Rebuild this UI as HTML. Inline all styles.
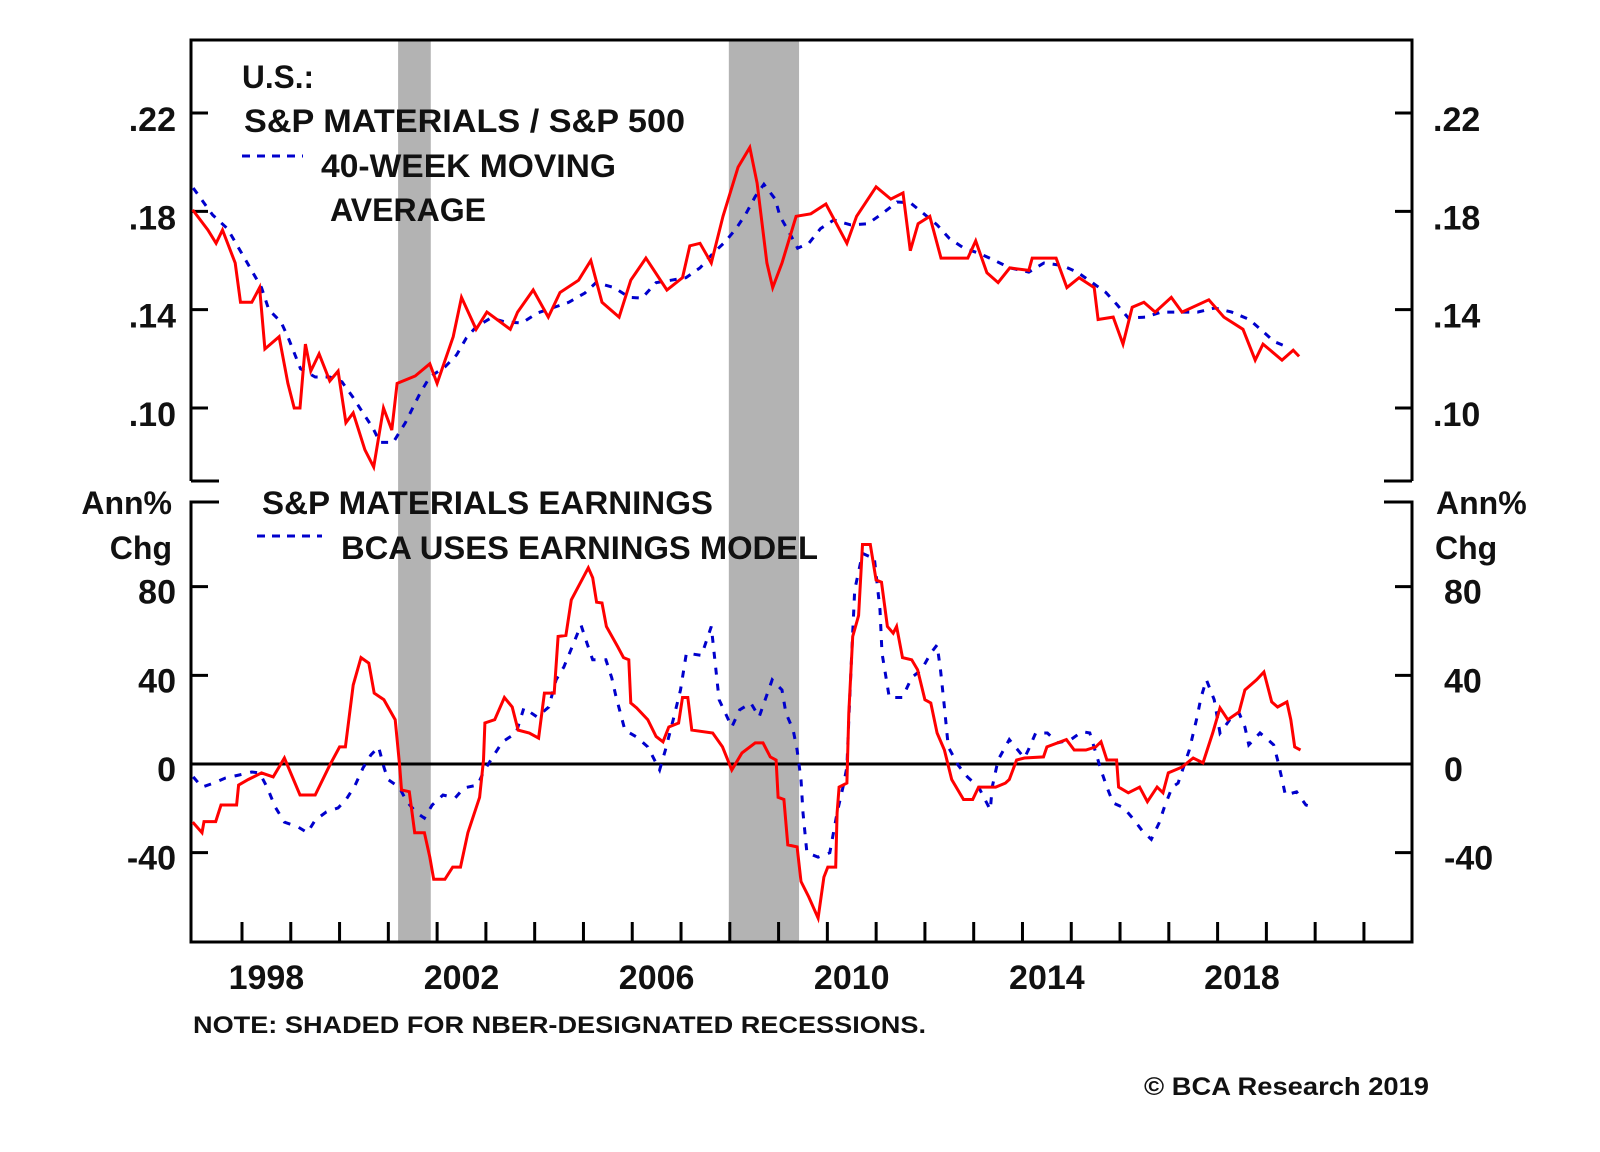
<!DOCTYPE html>
<html><head><meta charset="utf-8"><title>S&amp;P Materials relative performance and earnings growth, 1997–2019</title>
<style>
html,body{margin:0;padding:0;background:#fff;}
svg{display:block;}
text{font-family:"Liberation Sans",Arial,sans-serif;font-weight:bold;fill:#111;}
</style></head>
<body>
<svg id="chart" width="1600" height="1152" viewBox="0 0 1600 1152" xmlns="http://www.w3.org/2000/svg">
<g id="rec"></g>
<g id="frame"></g>
<g id="ticks"></g>
<g id="series"></g>
<g id="labels">
<text x="242" y="88" font-size="32" textLength="72" lengthAdjust="spacingAndGlyphs">U.S.:</text>
<text x="244" y="132" font-size="32" textLength="441" lengthAdjust="spacingAndGlyphs">S&amp;P MATERIALS / S&amp;P 500</text>
<line x1="242" y1="156" x2="303" y2="156" stroke="#0000cc" stroke-width="3" stroke-dasharray="8,7"/>
<text x="321" y="177" font-size="32" textLength="295" lengthAdjust="spacingAndGlyphs">40-WEEK MOVING</text>
<text x="330" y="221" font-size="32" textLength="156" lengthAdjust="spacingAndGlyphs">AVERAGE</text>
<text x="262" y="514" font-size="32" textLength="451" lengthAdjust="spacingAndGlyphs">S&amp;P MATERIALS EARNINGS</text>
<line x1="257" y1="536" x2="322" y2="536" stroke="#0000cc" stroke-width="3" stroke-dasharray="8,7"/>
<text x="341" y="559" font-size="32" textLength="477" lengthAdjust="spacingAndGlyphs">BCA USES EARNINGS MODEL</text>
<text x="172" y="514" font-size="32" text-anchor="end">Ann%</text>
<text x="172" y="559" font-size="32" text-anchor="end">Chg</text>
<text x="1436" y="514" font-size="32">Ann%</text>
<text x="1435" y="559" font-size="32">Chg</text>
<text x="193" y="1033" font-size="24" textLength="733" lengthAdjust="spacingAndGlyphs">NOTE: SHADED FOR NBER-DESIGNATED RECESSIONS.</text>
<text x="1144" y="1095" font-size="25" textLength="285" lengthAdjust="spacingAndGlyphs">© BCA Research 2019</text>
</g>
</svg>
<script>
// ---- data ----
const recStart = [2001.2, 2007.98];
const recEnd = [2001.87, 2009.42];
const topTicks = [0.22, 0.18, 0.14, 0.10];
const topTickLabels = [".22", ".18", ".14", ".10"];
const botTicks = [80, 40, 0, -40];
const botTickLabels = ["80", "40", "0", "-40"];
const yearLabels = [1998, 2002, 2006, 2010, 2014, 2018];

const ratioYears = [1996.99,1997.3,1997.47,1997.6,1997.86,1997.97,1998.2,1998.36,1998.47,1998.76,1998.94,1999.07,1999.19,1999.3,1999.41,1999.58,1999.8,1999.97,2000.13,2000.28,2000.52,2000.7,2000.9,2001.07,2001.18,2001.55,2001.85,2002.0,2002.33,2002.5,2002.8,2003.02,2003.5,2003.65,2003.97,2004.28,2004.52,2004.9,2005.15,2005.38,2005.73,2005.97,2006.28,2006.71,2007.03,2007.18,2007.39,2007.62,2007.86,2008.17,2008.41,2008.56,2008.76,2008.88,2009.07,2009.36,2009.66,2009.97,2010.4,2010.6,2011.0,2011.3,2011.55,2011.7,2011.86,2012.1,2012.33,2012.88,2013.04,2013.27,2013.5,2013.74,2014.13,2014.2,2014.69,2014.91,2015.16,2015.47,2015.55,2015.86,2016.06,2016.25,2016.49,2016.72,2017.05,2017.27,2017.82,2018.13,2018.52,2018.77,2018.93,2019.32,2019.55,2019.67];
const ratioValues = [0.1806,0.1724,0.167,0.1724,0.159,0.143,0.143,0.149,0.124,0.129,0.110,0.100,0.100,0.126,0.115,0.122,0.111,0.115,0.094,0.098,0.083,0.076,0.100,0.091,0.110,0.113,0.118,0.110,0.129,0.145,0.132,0.139,0.132,0.139,0.148,0.137,0.147,0.152,0.160,0.143,0.137,0.152,0.161,0.148,0.153,0.166,0.167,0.159,0.178,0.198,0.206,0.1915,0.159,0.149,0.159,0.178,0.179,0.183,0.167,0.178,0.190,0.185,0.1875,0.164,0.175,0.178,0.161,0.161,0.168,0.155,0.151,0.157,0.156,0.161,0.161,0.149,0.153,0.149,0.136,0.137,0.126,0.141,0.143,0.139,0.145,0.139,0.144,0.137,0.132,0.1195,0.126,0.1195,0.1235,0.121];

const maYears = [1997.0,1997.4,1997.7,1998.08,1998.4,1998.55,1998.8,1998.95,1999.2,1999.5,1999.8,2000.05,2000.27,2000.48,2000.68,2000.83,2001.1,2001.35,2001.5,2001.65,2001.85,2002.16,2002.4,2002.6,2002.8,2003.1,2003.4,2003.74,2004.05,2004.36,2004.7,2005.03,2005.26,2005.63,2005.94,2006.2,2006.49,2006.8,2007.1,2007.39,2007.66,2007.9,2008.13,2008.33,2008.52,2008.7,2008.93,2009.03,2009.23,2009.39,2009.62,2009.86,2010.13,2010.48,2010.83,2011.12,2011.43,2011.7,2011.98,2012.25,2012.5,2012.8,2013.1,2013.43,2013.74,2014.13,2014.44,2014.81,2015.12,2015.43,2015.71,2015.94,2016.17,2016.53,2016.84,2017.19,2017.59,2017.94,2018.29,2018.65,2018.88,2019.16,2019.47];
const maValues = [0.1895,0.1785,0.173,0.160,0.149,0.140,0.135,0.1285,0.116,0.1126,0.1126,0.1106,0.1045,0.098,0.092,0.086,0.086,0.094,0.100,0.106,0.1126,0.1167,0.1216,0.1285,0.133,0.1366,0.135,0.1346,0.1386,0.1407,0.143,0.1468,0.151,0.149,0.145,0.1447,0.151,0.152,0.153,0.157,0.163,0.1675,0.173,0.179,0.186,0.191,0.185,0.178,0.171,0.165,0.167,0.173,0.1765,0.1745,0.175,0.179,0.1838,0.1835,0.179,0.1745,0.169,0.165,0.163,0.160,0.157,0.1553,0.159,0.158,0.1553,0.151,0.147,0.142,0.1366,0.137,0.139,0.139,0.139,0.1407,0.139,0.136,0.132,0.127,0.1245];

const earnYears = [1996.99,1997.18,1997.22,1997.46,1997.57,1997.89,1997.93,1998.13,1998.4,1998.64,1998.87,1999.19,1999.5,1999.8,2000.0,2000.12,2000.28,2000.44,2000.6,2000.71,2000.91,2001.14,2001.23,2001.27,2001.43,2001.54,2001.74,2001.85,2001.93,2002.16,2002.32,2002.48,2002.63,2002.87,2002.95,2002.98,2003.18,2003.38,2003.54,2003.66,2003.89,2004.08,2004.2,2004.4,2004.48,2004.64,2004.75,2004.99,2005.1,2005.19,2005.27,2005.38,2005.47,2005.7,2005.82,2005.93,2005.97,2006.09,2006.32,2006.49,2006.63,2006.75,2006.95,2007.03,2007.14,2007.22,2007.65,2007.85,2008.04,2008.25,2008.52,2008.68,2008.83,2008.95,2008.99,2009.11,2009.19,2009.38,2009.46,2009.62,2009.81,2009.93,2010.01,2010.17,2010.2,2010.24,2010.4,2010.44,2010.52,2010.64,2010.72,2010.88,2011.0,2011.11,2011.23,2011.35,2011.42,2011.54,2011.73,2011.85,2012.0,2012.12,2012.25,2012.4,2012.55,2012.79,2012.98,2013.1,2013.45,2013.65,2013.73,2013.88,2014.04,2014.43,2014.5,2014.9,2015.06,2015.3,2015.5,2015.61,2015.73,2015.93,2015.97,2016.17,2016.4,2016.56,2016.76,2016.88,2016.99,2017.27,2017.5,2017.7,2017.9,2018.05,2018.21,2018.44,2018.56,2018.8,2018.95,2019.11,2019.23,2019.42,2019.5,2019.58,2019.7];
const earnValues = [-26.2,-31,-26,-26,-18.5,-18.5,-9.5,-7,-4,-5.8,2.7,-14,-14,-0.5,7.7,7.7,35.6,48,45.5,32,29,20,-0.5,-11.7,-12.5,-31,-31,-42,-52,-52,-46.5,-46.5,-31,-15,1.8,18.5,20,30,25.7,15.3,14,11.7,32,32,57.5,58,74,84,88.5,84,73,72.6,62,53,48,47,27.5,25.3,20,12.4,10,16.7,18.5,30,30,15.3,14,7.7,-2.7,5,9.5,9.5,3.2,1.8,-15,-16,-36.5,-37.4,-53,-60,-69.5,-51,-46.5,-46.5,-22,-10.4,-8.6,23,57.5,67,99,99,83,82,62,59,62,48,47,42.5,29,27.5,14,6.3,-7,-16,-16,-10.4,-10.4,-8.6,-7,1.8,2.7,3.2,7.7,11,6.3,6.3,7.7,10,1.8,1.8,-10.4,-13,-10.4,-17,-10.4,-13,-4,-1.4,2.7,0.5,14,25.3,20,23.5,33.4,38,41.5,28,25.7,28,20,7.7,6.3];

const modelYears = [1997.0,1997.18,1997.42,1997.66,1997.93,1998.2,1998.36,1998.52,1998.68,1998.87,1999.15,1999.34,1999.5,1999.73,1999.97,2000.13,2000.32,2000.48,2000.64,2000.8,2000.91,2000.99,2001.22,2001.38,2001.58,2001.74,2001.9,2002.12,2002.37,2002.55,2002.83,2002.95,2003.14,2003.34,2003.62,2003.78,2004.05,2004.29,2004.44,2004.6,2004.8,2004.95,2005.07,2005.19,2005.46,2005.58,2005.66,2005.85,2006.09,2006.32,2006.56,2006.68,2006.84,2006.99,2007.11,2007.42,2007.62,2007.7,2007.78,2008.04,2008.2,2008.43,2008.6,2008.87,2009.07,2009.15,2009.3,2009.38,2009.46,2009.5,2009.58,2009.81,2010.05,2010.2,2010.32,2010.4,2010.44,2010.49,2010.56,2010.72,2010.88,2010.96,2011.08,2011.12,2011.27,2011.54,2011.73,2011.93,2012.12,2012.25,2012.32,2012.4,2012.48,2012.68,2012.87,2013.1,2013.34,2013.38,2013.5,2013.73,2014.04,2014.12,2014.27,2014.51,2014.72,2014.99,2015.22,2015.38,2015.61,2015.73,2015.86,2016.08,2016.29,2016.45,2016.64,2016.8,2016.91,2017.07,2017.19,2017.3,2017.42,2017.58,2017.66,2017.77,2017.93,2018.05,2018.25,2018.44,2018.56,2018.64,2018.87,2019.03,2019.15,2019.23,2019.31,2019.39,2019.62,2019.81,2019.95];
const modelValues = [-5.8,-10.4,-8.6,-6.3,-5,-3.6,-4,-10.8,-19.4,-26.2,-28.4,-31,-25.3,-21.6,-19.8,-16.2,-9.5,-1.8,4,7.7,-1.4,-7,-10.4,-17,-22,-24.4,-18.5,-14,-15.3,-10.8,-9.5,-3.6,3.2,10,14,25.3,21.2,25.7,38,43.8,54.6,62.7,54.6,47,47,38.8,31,15.3,12.2,7.7,-2.7,6.3,20,33.4,50,49,62,45.5,29,16.7,24.4,27.5,21.2,38,33.4,23,15.3,6.3,-7,-22,-40,-42,-40,-22,-10.4,-1.4,20,45.5,78.5,95,93.4,93.4,69.5,50,30,30,39,42.5,50,53.7,42.5,25.7,7.7,-0.5,-5.8,-10.4,-20.7,-10.4,1.8,11,2.7,6.3,14,14,9.5,11,14.6,14,-2.7,-10.4,-17.6,-19.8,-25.3,-30,-34,-26.6,-19.4,-10.4,-8.6,-1.4,6.3,21.2,30,38,29,14,20,23,16.7,8.6,14,11,8.6,1.8,-5.8,-14,-12.6,-18.5,-19.4];

// ---- layout / scales ----
const L = 191, R = 1412, TOP = 40, TB = 481, BT = 502, BOT = 942;
function xYear(y){ return 242 + (y - 1998) * 48.78; }
function yTop(v){ return 408 - (v - 0.10) * 2458; }
function yBot(v){ return 764 - v * 2.217; }
const NS = "http://www.w3.org/2000/svg";
function mk(tag, attrs, parent){
  const e = document.createElementNS(NS, tag);
  for (const k in attrs) e.setAttribute(k, attrs[k]);
  parent.appendChild(e); return e;
}
const gRec = document.getElementById('rec'), gFrame = document.getElementById('frame'),
      gTicks = document.getElementById('ticks'), gSeries = document.getElementById('series'),
      gLab = document.getElementById('labels');

for (let i = 0; i < recStart.length; i++){
  const r = mk('rect', {x: xYear(recStart[i]), y: TOP, width: xYear(recEnd[i]) - xYear(recStart[i]), height: BOT - TOP, fill: '#b3b3b3'}, gRec);
  
  
}

const fs = {stroke: '#000', 'stroke-width': 3, fill: 'none'};
const topFrame = mk('path', Object.assign({d: `M${L} ${TB} L${L} ${TOP} L${R} ${TOP} L${R} ${TB} M${L} ${TB} L${L+28} ${TB} M${R} ${TB} L${R-28} ${TB}`}, fs), gFrame);


const botFrame = mk('path', Object.assign({d: `M${L+28} ${BT} L${L} ${BT} L${L} ${BOT} L${R} ${BOT} L${R} ${BT} L${R-28} ${BT}`}, fs), gFrame);


const zl = mk('line', {x1: L, x2: R, y1: yBot(0), y2: yBot(0), stroke: '#000', 'stroke-width': 3}, gFrame);



topTicks.forEach((v, i) => {
  const y = yTop(v);
  mk('line', {x1: L, x2: L + 17, y1: y, y2: y, stroke: '#000', 'stroke-width': 3}, gTicks);
  mk('line', {x1: R, x2: R - 17, y1: y, y2: y, stroke: '#000', 'stroke-width': 3}, gTicks);
  const t1 = mk('text', {x: 176, y: y + 18, 'font-size': 34, 'text-anchor': 'end'}, gLab);
  t1.textContent = topTickLabels[i];
  
  
  const t2 = mk('text', {x: 1433, y: y + 18, 'font-size': 34}, gLab);
  t2.textContent = topTickLabels[i];
  
  
});
botTicks.forEach((v, i) => {
  const y = yBot(v);
  mk('line', {x1: L, x2: L + 17, y1: y, y2: y, stroke: '#000', 'stroke-width': 3}, gTicks);
  mk('line', {x1: R, x2: R - 17, y1: y, y2: y, stroke: '#000', 'stroke-width': 3}, gTicks);
  const t1 = mk('text', {x: 176, y: y + 17, 'font-size': 34, 'text-anchor': 'end'}, gLab);
  t1.textContent = botTickLabels[i];
  
  
  const t2 = mk('text', {x: 1444, y: y + 17, 'font-size': 34}, gLab);
  t2.textContent = botTickLabels[i];
  
  
});
for (let yr = 1998; yr <= 2021; yr++){
  const x = xYear(yr);
  mk('line', {x1: x, x2: x, y1: BOT, y2: BOT - 20, stroke: '#000', 'stroke-width': 3}, gTicks);
}
yearLabels.forEach(yr => {
  const t = mk('text', {x: xYear(yr + 0.5), y: 989, 'font-size': 34, 'text-anchor': 'middle'}, gLab);
  t.textContent = String(yr);
  
  
});

function path(xs, ys, yf){
  return xs.map((x, i) => (i ? 'L' : 'M') + xYear(x).toFixed(1) + ' ' + yf(ys[i]).toFixed(1)).join(' ');
}
const pMa = mk('path', {d: path(maYears, maValues, yTop), fill: 'none', stroke: '#0000cc', 'stroke-width': 3, 'stroke-dasharray': '7,8'}, gSeries);


const pRatio = mk('path', {d: path(ratioYears, ratioValues, yTop), fill: 'none', stroke: '#ff0000', 'stroke-width': 3}, gSeries);


const pModel = mk('path', {d: path(modelYears, modelValues, yBot), fill: 'none', stroke: '#0000cc', 'stroke-width': 3, 'stroke-dasharray': '7,9'}, gSeries);


const pEarn = mk('path', {d: path(earnYears, earnValues, yBot), fill: 'none', stroke: '#ff0000', 'stroke-width': 3}, gSeries);


</script>
</body></html>
